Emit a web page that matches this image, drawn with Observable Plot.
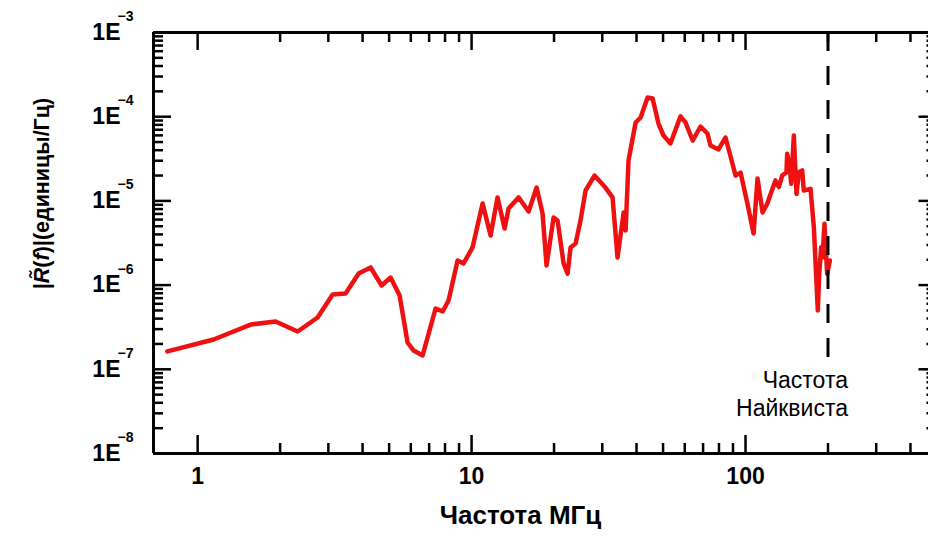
<!DOCTYPE html>
<html><head><meta charset="utf-8">
<script src="https://cdn.jsdelivr.net/npm/d3@7"></script>
<script src="https://cdn.jsdelivr.net/npm/@observablehq/plot@0.6"></script>
<style>body{margin:0;background:#fff;} #chart svg{overflow:hidden}</style>
</head><body><div id="chart"></div>
<script>
// ---- data ----
const freqMHz = [0.775, 1.144, 1.561, 1.926, 2.317, 2.741, 3.110, 3.468, 3.870, 4.280,
  4.694, 5.063, 5.461, 5.839, 6.142, 6.626, 7.389, 7.839, 8.24, 8.89,
  9.35, 10.08, 10.97, 11.73, 12.44, 13.20, 13.65, 14.84, 16.15, 17.27,
  18.16, 18.78, 19.92, 20.60, 21.67, 22.41, 22.98, 23.97, 24.98, 26.07,
  28.1, 30.8, 32.7, 34.1, 35.9, 36.5, 37.4, 39.7, 41.4, 43.9,
  45.8, 48.1, 50.2, 53.2, 57.9, 60.4, 64.1, 68.5, 72.6, 74.5,
  79.7, 84.5, 87.4, 92.0, 95.9, 101.6, 107.0, 110.6, 115.4, 120.0,
  128.6, 132.3, 136.1, 141.1, 141.9, 145.1, 146.8, 150.1, 151.9, 153.5,
  156.6, 161.0, 163.2, 172.7, 177.6, 183.6, 185.8, 188.9, 191.0, 194.2,
  198.6, 203.2];
const amplitude = [1.63e-7, 2.26e-7, 3.40e-7, 3.70e-7, 2.81e-7, 4.12e-7, 7.73e-7, 7.94e-7, 1.37e-6, 1.62e-6,
  9.89e-7, 1.23e-6, 7.52e-7, 2.08e-7, 1.67e-7, 1.46e-7, 5.27e-7, 4.86e-7, 6.56e-7, 1.96e-6,
  1.81e-6, 2.80e-6, 9.31e-6, 3.88e-6, 1.10e-5, 4.70e-6, 8.13e-6, 1.10e-5, 7.48e-6, 1.44e-5,
  7.08e-6, 1.71e-6, 6.35e-6, 5.85e-6, 1.81e-6, 1.37e-6, 2.80e-6, 3.12e-6, 5.85e-6, 1.33e-5,
  2.00e-5, 1.44e-5, 1.10e-5, 2.13e-6, 7.28e-6, 4.45e-6, 3.02e-5, 8.53e-5, 9.78e-5, 1.69e-4,
  1.65e-4, 8.30e-5, 5.98e-5, 4.81e-5, 1.01e-4, 8.53e-5, 5.21e-5, 7.65e-5, 6.31e-5, 4.55e-5,
  4.08e-5, 5.66e-5, 3.76e-5, 2.00e-5, 2.17e-5, 9.31e-6, 4.10e-6, 1.85e-5, 7.28e-6, 9.24e-6,
  1.75e-5, 1.46e-5, 2.00e-5, 2.19e-5, 3.62e-5, 2.51e-5, 1.60e-5, 5.98e-5, 2.51e-5, 1.21e-5,
  2.19e-5, 2.30e-5, 1.33e-5, 1.39e-5, 4.87e-6, 4.99e-7, 1.36e-6, 2.82e-6, 2.14e-6, 5.35e-6,
  1.36e-6, 1.96e-6];
const xMajorTicks = [1, 10, 100];
const xMinorTicks = [2, 3, 4, 5, 6, 7, 8, 9, 20, 30, 40, 50, 60, 70, 80, 90, 200, 300, 400];
const yMajorExponents = [-8, -7, -6, -5, -4, -3];
const yMinorMultipliers = [2, 3, 4, 5, 6, 7, 8, 9];
const xDomain = [0.69, 500];
const yDomain = [1e-8, 1e-3];
const nyquistMHz = 200;
const nyquistLineBottom = 1.3e-7;
const nyquistLabelY = 5.2e-8;
const nyquistLabel = ["Частота", "Найквиста"];
const xLabel = "Частота МГц";
const yLabelParts = [
  {s: "|"}, {s: "R\u0303", italic: true}, {s: "("}, {s: "f", italic: true}, {s: ")|(единицы/Гц)"}
];

// ---- derived tables ----
const series = freqMHz.map((f, i) => ({f, a: amplitude[i]}));
const yMinorTicks = yMajorExponents.slice(0, -1).flatMap(e => yMinorMultipliers.map(m => m * Math.pow(10, e)));
const yMajorTicks = yMajorExponents.map(e => Math.pow(10, e));
const yLabel = yLabelParts.map(p => p.s).join("");

const W = 928, H = 536;
const mTop = 32, mBottom = 83, mLeft = 153, mRight = -8.5;
const plotH = H - mTop - mBottom;
const plotW = W - mLeft - mRight;
const majorLen = 18, minorLen = 10;
const font = "'Liberation Sans', Arial, Helvetica, sans-serif";

const chart = Plot.plot({
  width: W, height: H,
  marginTop: mTop, marginBottom: mBottom, marginLeft: mLeft, marginRight: mRight,
  style: {fontFamily: font, fontSize: "23px", background: "white", overflow: "hidden"},
  x: {type: "log", domain: xDomain, axis: null},
  y: {type: "log", domain: yDomain, axis: null},
  marks: [
    // frame
    Plot.ruleY(yDomain, {stroke: "black", strokeWidth: 3}),
    Plot.ruleX([xDomain[0]], {stroke: "black", strokeWidth: 3}),
    // x ticks bottom & top
    Plot.tickX(xMajorTicks, {x: d => d, insetTop: plotH - majorLen, strokeWidth: 2.5}),
    Plot.tickX(xMinorTicks, {x: d => d, insetTop: plotH - minorLen, strokeWidth: 2.5}),
    Plot.tickX(xMajorTicks, {x: d => d, insetBottom: plotH - majorLen, strokeWidth: 2.5}),
    Plot.tickX(xMinorTicks, {x: d => d, insetBottom: plotH - minorLen, strokeWidth: 2.5}),
    // y ticks left & right
    Plot.tickY(yMajorTicks, {y: d => d, insetRight: plotW - majorLen, strokeWidth: 2.5}),
    Plot.tickY(yMinorTicks, {y: d => d, insetRight: plotW - minorLen, strokeWidth: 2.5}),
    Plot.tickY(yMajorTicks, {y: d => d, insetLeft: plotW - majorLen, strokeWidth: 2.5}),
    Plot.tickY(yMinorTicks, {y: d => d, insetLeft: plotW - minorLen, strokeWidth: 2.5}),
    // y tick labels: 1E with superscript exponent
    Plot.text(yMajorExponents, {y: d => Math.pow(10, d), text: () => "1E", frameAnchor: "left",
      dx: -33, textAnchor: "end", fontSize: 23, fontWeight: "bold", fill: "black"}),
    Plot.text(yMajorExponents, {y: d => Math.pow(10, d), text: d => "\u2212" + Math.abs(d), frameAnchor: "left",
      dx: -36, dy: -16, textAnchor: "start", fontSize: 14, fontWeight: "bold", fill: "black"}),
    // x tick labels
    Plot.text(xMajorTicks, {x: d => d, text: d => String(d), frameAnchor: "bottom", dy: 30,
      fontSize: 23, fontWeight: "bold", fill: "black"}),
    // data line
    Plot.line(series, {x: "f", y: "a", stroke: "#ee1111", strokeWidth: 4.5, strokeLinejoin: "round", strokeLinecap: "round"}),
    // Nyquist
    Plot.ruleX([nyquistMHz], {y1: yDomain[1], y2: nyquistLineBottom, stroke: "black", strokeWidth: 3, strokeDasharray: "19,15"}),
    Plot.text([nyquistLabel.join("\n")], {x: nyquistMHz, y: nyquistLabelY, dx: 20, textAnchor: "end",
      fontSize: 23, lineHeight: 1.22, fill: "black"}),
    // axis labels
    Plot.text([xLabel], {frameAnchor: "bottom-left", dx: 520 - mLeft, dy: 70, textAnchor: "middle",
      fontSize: 26, fontWeight: "bold", fill: "black"}),
    Plot.text([yLabel], {frameAnchor: "top-left", dx: 33 - mLeft, dy: 193 - mTop, rotate: -90,
      textAnchor: "middle", fontSize: 21.5, fontWeight: "bold", fill: "black"})
  ]
});

// italic parts of the y label
d3.select(chart).selectAll("text").filter(function() { return this.textContent === yLabel; })
  .each(function() {
    const t = d3.select(this);
    t.text(null);
    yLabelParts.forEach(p => t.append("tspan").attr("font-style", p.italic ? "italic" : null).text(p.s));
  });

document.getElementById("chart").append(chart);
</script>
</body></html>
